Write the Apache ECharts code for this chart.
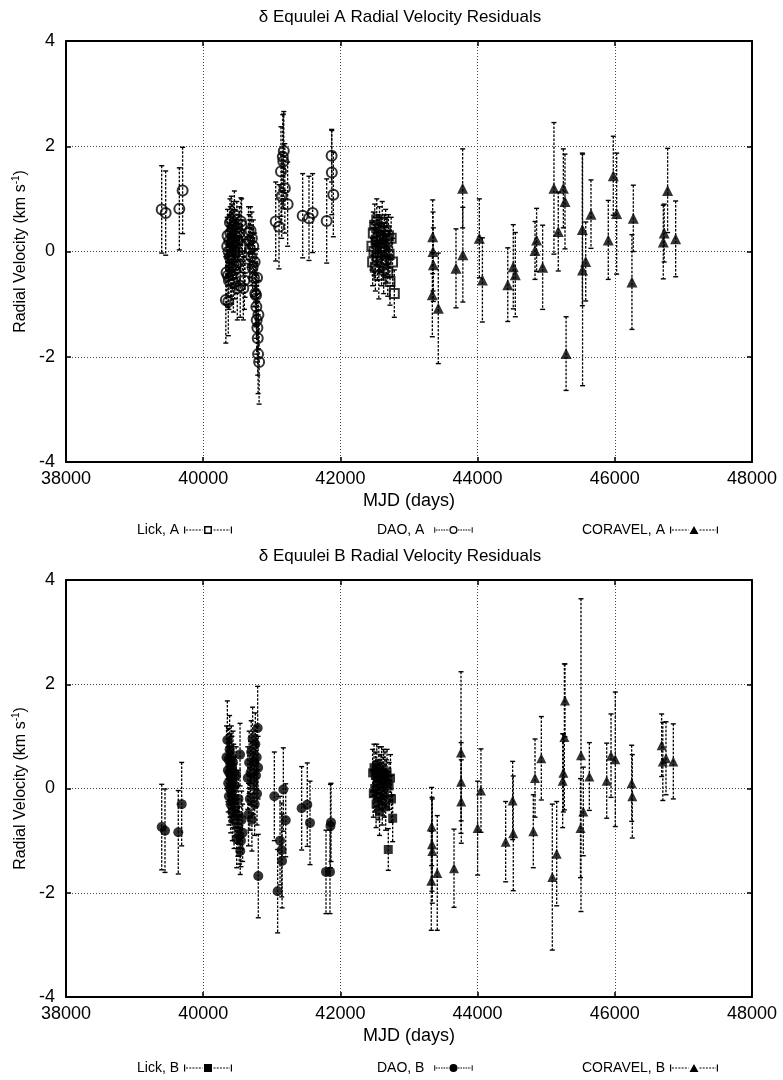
<!DOCTYPE html>
<html><head><meta charset="utf-8">
<script src="https://cdn.jsdelivr.net/npm/echarts@6/dist/echarts.min.js"></script>
<style>html,body{margin:0;padding:0;background:#fff}#c{width:783px;height:1080px}</style>
</head><body><div id="c"></div>
<script>
// ---------- DATA ----------
const xTicks = [38000, 40000, 42000, 44000, 46000, 48000];
const yTicks = [-4, -2, 0, 2, 4];

// Star A
const lickA_mjd = [42460,42470,42480,42490,42500,42510,42520,42530,42540,42550,42560,42570,42580,42590,42600,42610,42620,42630,42640,42650,42660,42670,42680,42690,42700,42710,42723,42740,42760,42786];
const lickA_rv  = [0.10,-0.20,0.35,0.00,0.50,-0.30,0.20,0.60,-0.10,0.30,-0.45,0.45,0.05,0.25,-0.20,0.55,0.10,-0.35,0.30,0.00,0.40,-0.15,0.20,-0.40,0.30,-0.05,-0.57,0.25,-0.20,-0.80];
const lickA_err = [0.45,0.45,0.40,0.45,0.40,0.45,0.45,0.40,0.45,0.40,0.45,0.40,0.45,0.40,0.45,0.40,0.45,0.45,0.40,0.45,0.40,0.45,0.45,0.45,0.40,0.45,0.45,0.40,0.45,0.45];

const daoA_mjd = [39395,39453,39652,39700,
  40330,40340,40350,40355,40360,40366,40370,40375,40380,40385,40390,40395,40400,40405,40410,40415,40420,40425,40430,40435,40440,40445,40450,40455,40460,40465,40470,40480,40490,40497,40510,40520,40530,40540,40550,40560,40570,40585,40600,40610,
  40660,40670,40680,40690,40700,40710,40720,40730,40740,40750,40760,40770,40775,40780,40785,40790,40795,40800,40805,40815,
  41057,41105,41134,41144,41160,41168,41175,41190,41231,
  41450,41542,41595,41800,41872,41875,41897];
const daoA_rv = [0.80,0.73,0.81,1.16,
  -0.92,-0.40,0.10,0.30,-0.46,-0.95,0.00,-0.55,0.20,-0.10,0.55,0.35,-0.30,0.05,0.60,-0.45,0.15,0.40,-0.15,0.25,-0.60,0.50,0.00,0.70,-0.35,0.30,0.10,-0.25,0.45,-0.70,0.20,-0.10,0.35,-0.65,0.57,0.50,0.10,-0.70,-0.55,-0.32,
  0.35,0.20,0.05,0.40,-0.10,0.25,-0.30,0.10,-0.50,-0.20,-0.80,-0.83,-1.05,-1.30,-0.50,-1.45,-1.65,-1.95,-1.20,-2.10,
  0.57,0.47,1.52,1.05,1.80,1.71,1.91,1.20,0.90,
  0.68,0.63,0.73,0.58,1.82,1.50,1.08];
const daoA_err = [0.83,0.80,0.78,0.82,
  0.82,0.60,0.55,0.50,0.60,0.65,0.50,0.55,0.50,0.55,0.45,0.50,0.55,0.50,0.45,0.55,0.50,0.50,0.55,0.50,0.55,0.45,0.50,0.45,0.55,0.50,0.50,0.55,0.50,0.60,0.50,0.55,0.50,0.60,0.45,0.50,0.50,0.60,0.55,0.55,
  0.50,0.50,0.55,0.45,0.55,0.50,0.55,0.50,0.55,0.55,0.60,0.60,0.60,0.65,0.55,0.65,0.70,0.75,0.65,0.80,
  0.75,0.80,0.85,0.80,0.80,0.90,0.75,0.85,0.80,
  0.80,0.80,0.75,0.80,0.50,0.80,0.80];

const corA_mjd = [43340,43345,43350,43355,43427,43685,43782,43785,44025,44070,44440,44520,44550,44837,44860,44948,45113,45176,45250,45274,45290,45527,45530,45576,45653,45905,45978,46027,46250,46270,46707,46720,46770,46887];
const corA_rv  = [-0.82,0.28,0.00,-0.25,-1.08,-0.32,1.20,-0.06,0.25,-0.54,-0.63,-0.29,-0.44,0.02,0.22,-0.30,1.20,0.38,1.20,0.95,-1.94,0.42,-0.35,-0.19,0.71,0.22,1.44,0.72,-0.58,0.63,0.18,0.35,1.16,0.24];
const corA_err = [0.80,0.70,0.75,0.70,1.05,0.75,0.75,0.90,0.75,0.80,0.70,0.80,0.80,0.55,0.60,0.80,1.25,0.75,0.75,0.90,0.70,1.45,2.20,0.75,0.65,0.75,0.75,1.15,0.90,0.63,0.70,0.55,0.80,0.72];

// Star B
const lickB_mjd = [42470,42480,42490,42500,42510,42520,42530,42540,42550,42560,42570,42580,42590,42600,42610,42620,42630,42640,42650,42660,42670,42680,42698,42710,42730,42745,42762];
const lickB_rv  = [0.30,-0.10,0.40,0.00,0.25,-0.30,0.45,0.10,-0.15,0.35,-0.45,0.20,0.05,0.40,-0.25,0.15,0.30,-0.10,0.25,-0.35,0.10,0.30,-1.17,0.05,0.20,-0.20,-0.57];
const lickB_err = [0.45,0.45,0.45,0.45,0.45,0.45,0.40,0.45,0.45,0.45,0.45,0.45,0.45,0.40,0.45,0.45,0.45,0.45,0.45,0.45,0.45,0.45,0.40,0.45,0.45,0.45,0.45];

const daoB_mjd = [39395,39443,39637,39686,
  40340,40352,40360,40365,40370,40375,40380,40385,40390,40395,40400,40405,40410,40415,40420,40425,40430,40435,40440,40445,40450,40460,40470,40480,40488,40495,40505,40515,40525,40537,40540,40550,40560,40575,
  40650,40660,40670,40680,40690,40700,40710,40720,40730,40740,40750,40760,40770,40780,40785,40794,40800,40803,
  41037,41085,41120,41144,41150,41168,41203,41435,41517,41557,41790,41848,41855,41863];
const daoB_rv = [-0.74,-0.81,-0.84,-0.30,
  0.60,0.93,0.35,0.10,0.55,-0.15,0.30,0.75,0.00,0.45,-0.30,0.20,0.60,-0.10,0.40,-0.45,0.15,0.50,-0.20,0.30,-0.60,0.05,-0.35,0.25,-0.97,-0.50,-0.75,-0.20,-0.90,0.65,-1.20,-1.00,-0.60,-0.85,
  0.20,-0.50,0.50,-0.20,0.30,0.70,-0.60,0.96,0.10,0.50,-0.30,0.85,0.25,0.60,-0.10,1.16,0.40,-1.68,
  -0.15,-1.97,-1.00,-1.18,-1.39,-0.02,-0.61,-0.38,-0.31,-0.66,-1.60,-1.60,-0.72,-0.65];
const daoB_err = [0.82,0.80,0.80,0.80,
  0.60,0.75,0.60,0.55,0.60,0.55,0.60,0.65,0.55,0.60,0.55,0.60,0.60,0.55,0.60,0.55,0.55,0.60,0.55,0.55,0.55,0.55,0.55,0.55,0.55,0.55,0.55,0.55,0.55,0.60,0.45,0.50,0.55,0.55,
  0.60,0.60,0.60,0.60,0.60,0.60,0.60,0.60,0.60,0.60,0.60,0.60,0.60,0.60,0.60,0.80,0.60,0.80,
  0.85,0.80,0.85,0.90,0.90,0.80,0.70,0.80,0.80,0.80,0.80,0.80,0.80,0.75];

const corB_mjd = [43325,43330,43335,43340,43412,43656,43758,43760,43762,44000,44049,44409,44511,44520,44812,44837,44929,45089,45153,45240,45250,45265,45274,45500,45507,45541,45629,45882,45945,46007,46246,46255,46683,46700,46746,46853];
const corB_rv  = [-1.77,-0.73,-1.07,-1.20,-1.62,-1.53,0.69,0.13,-0.25,-0.76,-0.04,-1.02,-0.23,-0.86,-0.82,0.20,0.58,-1.70,-1.25,0.15,0.30,0.99,1.69,-0.76,0.64,-0.44,0.23,0.15,0.63,0.56,0.10,-0.15,0.83,0.52,0.58,0.52];
const corB_err = [0.95,0.75,0.90,1.00,1.10,0.75,1.55,0.75,0.80,0.90,0.80,0.77,0.75,1.10,0.70,0.75,0.80,1.40,1.00,0.90,0.75,1.40,0.70,0.95,3.00,0.85,0.65,0.72,0.80,1.29,0.73,0.80,0.60,0.75,0.70,0.72];

// ---------- CHART ----------
const FONT = '"Liberation Sans", Arial, Helvetica, sans-serif';
const chart = echarts.init(document.getElementById('c'), null, {renderer: 'canvas'});

function errData(m, v, e) { return m.map((x, i) => [x, v[i] - e[i], v[i] + e[i]]); }
function ptData(m, v) { return m.map((x, i) => [x, v[i]]); }
function renderErr(params, api) {
  const x = api.value(0), lo = api.value(1), hi = api.value(2);
  const a = api.coord([x, hi]), b = api.coord([x, lo]);
  const st = {stroke: '#000', lineWidth: 1.3, lineDash: [2.5, 1.5]};
  const cs = {stroke: '#000', lineWidth: 1.4};
  return {type: 'group', children: [
    {type: 'line', shape: {x1: a[0], y1: a[1], x2: b[0], y2: b[1]}, style: st},
    {type: 'line', shape: {x1: a[0] - 2.5, y1: a[1], x2: a[0] + 2.5, y2: a[1]}, style: cs},
    {type: 'line', shape: {x1: b[0] - 2.5, y1: b[1], x2: b[0] + 2.5, y2: b[1]}, style: cs}
  ]};
}
function mk(name, m, v, e, gi, symbol, size, filled) {
  return [
    {type: 'custom', name: name, xAxisIndex: gi * 2, yAxisIndex: gi * 2, renderItem: renderErr,
     encode: {x: 0, y: [1, 2]}, data: errData(m, v, e), z: 2, silent: true},
    {type: 'scatter', name: name, xAxisIndex: gi * 2, yAxisIndex: gi * 2, data: ptData(m, v),
     symbol: symbol, symbolSize: size, z: 3,
     itemStyle: filled ? {color: '#000'} : {color: 'rgba(0,0,0,0)', borderColor: '#000', borderWidth: 2}}
  ];
}

// legend icons (error bar + marker)
function dashes(x0, x1) { let s = ''; for (let x = x0; x < x1; x += 3.2) { const w = Math.min(2, x1 - x); s += 'M' + x + ',4.4 h' + w + ' v1.2 h' + (-w) + ' Z '; } return s; }
const base = 'M0,1.5 h1.2 v7 h-1.2 Z M46.8,1.5 h1.2 v7 h-1.2 Z ' + dashes(2, 18.5) + dashes(29.5, 46);
const ICON = {
  sqOpen: 'path://' + base + 'M20,1 h8 v8 h-8 Z M21.5,2.5 v5 h5 v-5 Z',
  sqFill: 'path://' + base + 'M20,1 h8 v8 h-8 Z',
  cOpen: 'path://' + base + 'M19,5 a5,5 0 1,1 10,0 a5,5 0 1,1 -10,0 Z M20.6,5 a3.4,3.4 0 1,0 6.8,0 a3.4,3.4 0 1,0 -6.8,0 Z',
  cFill: 'path://' + base + 'M19,5 a5,5 0 1,1 10,0 a5,5 0 1,1 -10,0 Z',
  tri: 'path://' + base + 'M24,1 L28.5,9 L19.5,9 Z'
};
function leg(name, icon, left, top) {
  return {data: [{name: name, icon: icon, itemStyle: {color: '#000', borderWidth: 0}}], left: left, top: top,
    padding: 0, align: 'right', itemWidth: 48, itemHeight: 8, selectedMode: false,
    textStyle: {color: '#000', fontSize: 14, fontFamily: FONT}};
}

const axLine = {onZero: false, lineStyle: {color: '#000', width: 2}};
const axTick = {inside: true, length: 5, lineStyle: {color: '#000', width: 1.5}};
const split = {show: true, lineStyle: {color: '#444', type: [1, 2], width: 1}};
function xAx(gi) {
  return [
    {gridIndex: gi, type: 'value', position: 'bottom', min: xTicks[0], max: xTicks[xTicks.length - 1], interval: xTicks[1] - xTicks[0],
     axisLine: axLine, axisTick: axTick, splitLine: split,
     axisLabel: {color: '#000', fontSize: 18, fontFamily: FONT, margin: 8, formatter: v => String(v)},
     name: 'MJD (days)', nameLocation: 'middle', nameGap: 30,
     nameTextStyle: {color: '#000', fontSize: 18, fontFamily: FONT}},
    {gridIndex: gi, type: 'value', position: 'top', min: xTicks[0], max: xTicks[xTicks.length - 1], interval: xTicks[1] - xTicks[0],
     axisLine: axLine, axisTick: axTick, splitLine: {show: false}, axisLabel: {show: false}}
  ];
}
function yAx(gi) {
  return [
    {gridIndex: gi, type: 'value', position: 'left', min: yTicks[0], max: yTicks[yTicks.length - 1], interval: yTicks[1] - yTicks[0],
     axisLine: axLine, axisTick: axTick, splitLine: split,
     axisLabel: {color: '#000', fontSize: 18, fontFamily: FONT, margin: 11, formatter: v => String(v)},
     name: '{a|Radial Velocity (km s}{s|-1}{a|)}', nameLocation: 'middle', nameGap: 34, nameRotate: 90,
     nameTextStyle: {rich: {
       a: {color: '#000', fontSize: 16, fontFamily: FONT, lineHeight: 18},
       s: {color: '#000', fontSize: 10, fontFamily: FONT, lineHeight: 10, verticalAlign: 'top'}}}},
    {gridIndex: gi, type: 'value', position: 'right', min: yTicks[0], max: yTicks[yTicks.length - 1], interval: yTicks[1] - yTicks[0],
     axisLine: axLine, axisTick: axTick, splitLine: {show: false}, axisLabel: {show: false}}
  ];
}

const option = {
  animation: false,
  backgroundColor: '#fff',
  title: [
    {text: 'δ Equulei A Radial Velocity Residuals', left: 400, top: 9, textAlign: 'center', padding: 0,
     textStyle: {color: '#000', fontSize: 17, fontWeight: 'normal', fontFamily: FONT}},
    {text: 'δ Equulei B Radial Velocity Residuals', left: 400, top: 548, textAlign: 'center', padding: 0,
     textStyle: {color: '#000', fontSize: 17, fontWeight: 'normal', fontFamily: FONT}}
  ],
  legend: [
    leg('Lick, A', ICON.sqOpen, 137, 523),
    leg('DAO, A', ICON.cOpen, 377, 523),
    leg('CORAVEL, A', ICON.tri, 582, 523),
    leg('Lick, B', ICON.sqFill, 137, 1061),
    leg('DAO, B', ICON.cFill, 377, 1061),
    leg('CORAVEL, B', ICON.tri, 582, 1061)
  ],
  grid: [
    {left: 66, right: 31, top: 41, height: 421},
    {left: 66, right: 31, top: 580, height: 417}
  ],
  xAxis: [].concat(xAx(0), xAx(1)),
  yAxis: [].concat(yAx(0), yAx(1)),
  series: [].concat(
    mk('Lick, A', lickA_mjd, lickA_rv, lickA_err, 0, 'rect', 9, false),
    mk('DAO, A', daoA_mjd, daoA_rv, daoA_err, 0, 'circle', 10, false),
    mk('CORAVEL, A', corA_mjd, corA_rv, corA_err, 0, 'triangle', 11, true),
    mk('Lick, B', lickB_mjd, lickB_rv, lickB_err, 1, 'rect', 9, true),
    mk('DAO, B', daoB_mjd, daoB_rv, daoB_err, 1, 'circle', 10, true),
    mk('CORAVEL, B', corB_mjd, corB_rv, corB_err, 1, 'triangle', 10, true)
  )
};
chart.setOption(option);
</script>
</body></html>
